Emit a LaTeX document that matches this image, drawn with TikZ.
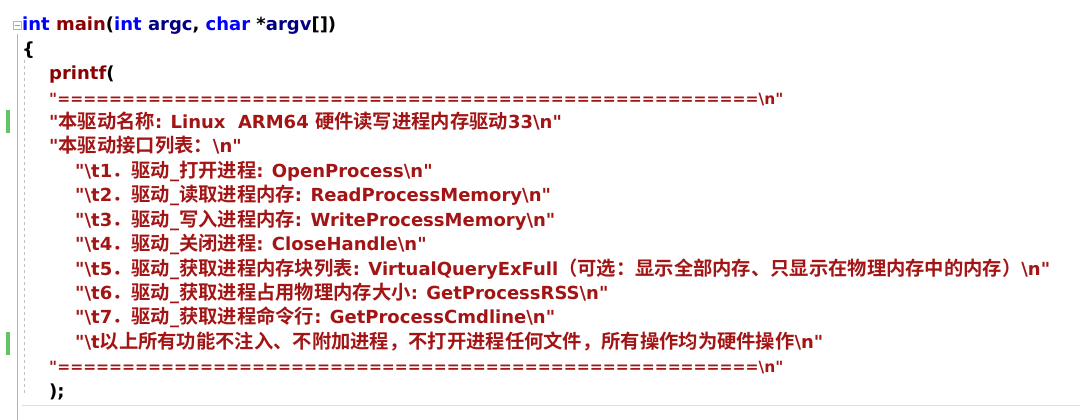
\documentclass[tikz,border=0pt]{standalone}
\usepackage{fontspec}
\setmainfont{DejaVu Sans}[Ligatures=TeXOff]
\newfontfamily\cjk{Noto Sans CJK SC}[BoldFont={Noto Sans CJK SC Bold}]
\newcommand\C[1]{{\cjk\fontsize{19.3}{20}\selectfont #1}}
\newcommand\bs{\textbackslash}
\newcommand\q{\symbol{34}}
\definecolor{str}{HTML}{A31515}
\definecolor{kw}{HTML}{0000FF}
\definecolor{idn}{HTML}{000080}
\definecolor{fn}{HTML}{8B0000}
\begin{document}
\begin{tikzpicture}[x=1pt,y=-1pt,
  code/.style={anchor=base west,inner sep=0pt,font=\bfseries\fontsize{18}{20}\selectfont,text=str},
  eq/.style={code,font=\bfseries\fontsize{15.5}{18}\selectfont}]
\useasboundingbox (0,0) rectangle (1080,420);
\fill[white] (0,0) rectangle (1080,420);
% gutter
\draw[gray!60] (17,34) -- (17,420);
\draw[gray!50,dashed] (24,60) -- (24,396);
\draw[gray!60,fill=white] (13,21) rectangle (21,29);
\draw[gray!80] (14.5,25) -- (19.5,25);
\fill[green!60!black!60] (6,110) rectangle (10,133);
\fill[green!60!black!60] (6,332) rectangle (10,355);
\draw[gray!25] (22,405) -- (1080,405);
% code
\node[code] (l1) at (22,31) {\textcolor{kw}{int} \textcolor{fn}{main}\textcolor{black}{(}\textcolor{kw}{int} \textcolor{idn}{argc}\textcolor{black}{,} \textcolor{kw}{char} \textcolor{black}{*}\textcolor{idn}{argv}\textcolor{black}{[])}};
\node[code,text=black] (l2) at (22,55.4) {\{};
\node[code,text=fn] (l3) at (49,79.8) {printf\textcolor{black}{(}};
\node[eq] (l4) at (49,104.2) {\q======================================================\bs n\q};
\node[code] (l5) at (49,128.6) {\q\C{本驱动名称}: Linux\ \ ARM64 \C{硬件读写进程内存驱动}33\bs n\q};
\node[code] (l6) at (49,153) {\q\C{本驱动接口列表：}\bs n\q};
\node[code] (l7) at (75,177.4) {\q\bs t1\C{．驱动}\_\C{打开进程}: OpenProcess\bs n\q};
\node[code] (l8) at (75,201.8) {\q\bs t2\C{．驱动}\_\C{读取进程内存}: ReadProcessMemory\bs n\q};
\node[code] (l9) at (75,226.2) {\q\bs t3\C{．驱动}\_\C{写入进程内存}: WriteProcessMemory\bs n\q};
\node[code] (l10) at (75,250.6) {\q\bs t4\C{．驱动}\_\C{关闭进程}: CloseHandle\bs n\q};
\node[code] (l11) at (75,275) {\q\bs t5\C{．驱动}\_\C{获取进程内存块列表}: VirtualQueryExFull\C{（可选：显示全部内存、只显示在物理内存中的内存）}\bs n\q};
\node[code] (l12) at (75,299.4) {\q\bs t6\C{．驱动}\_\C{获取进程占用物理内存大小}: GetProcessRSS\bs n\q};
\node[code] (l13) at (75,323.8) {\q\bs t7\C{．驱动}\_\C{获取进程命令行}: GetProcessCmdline\bs n\q};
\node[code] (l14) at (75,348.2) {\q\bs t\C{以上所有功能不注入、不附加进程，不打开进程任何文件，所有操作均为硬件操作}\bs n\q};
\node[eq] (l15) at (49,372.6) {\q======================================================\bs n\q};
\node[code,text=black] (l16) at (49,397) {);};
\end{tikzpicture}
\end{document}
